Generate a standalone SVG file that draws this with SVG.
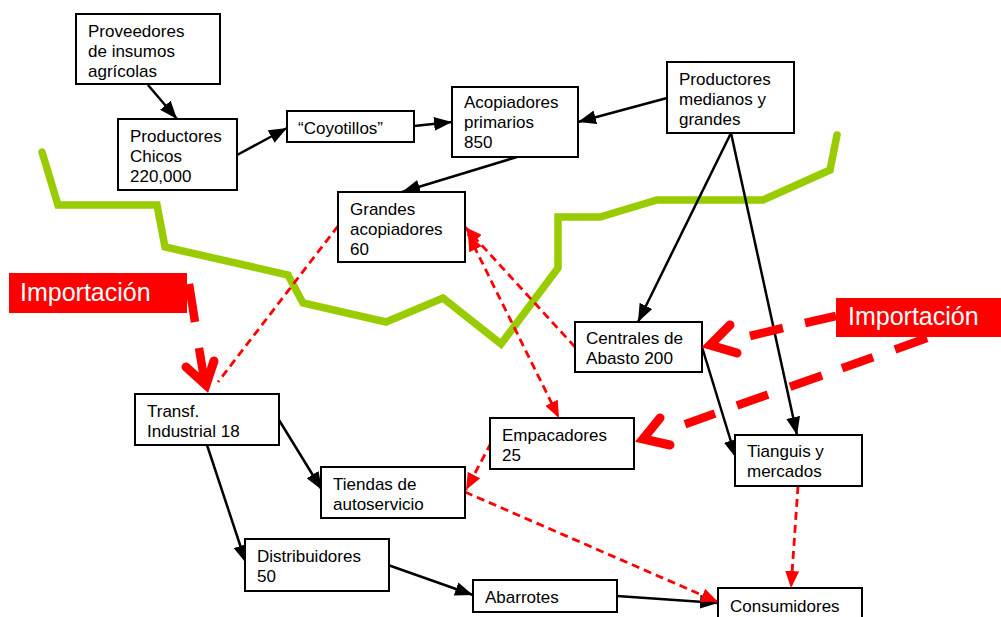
<svg xmlns="http://www.w3.org/2000/svg" width="1001" height="617" viewBox="0 0 1001 617">
<defs>
<marker id="ab" viewBox="0 0 18 14" markerWidth="18" markerHeight="14" refX="18" refY="7" orient="auto" markerUnits="userSpaceOnUse"><path d="M0,0 L18,7 L0,14 z" fill="#000"/></marker>
<marker id="ar" viewBox="0 0 17 14" markerWidth="17" markerHeight="14" refX="17" refY="7" orient="auto-start-reverse" markerUnits="userSpaceOnUse"><path d="M0,0 L17,7 L0,14 z" fill="#f00"/></marker>
</defs>
<style>
.box{fill:#fff;stroke:#000;stroke-width:2}
.t{font-family:"Liberation Sans",Arial,sans-serif;font-size:17px;fill:#000}
.blk{stroke:#000;stroke-width:2.5;fill:none;marker-end:url(#ab)}
.rd{stroke:#f00;stroke-width:2.8;fill:none;stroke-dasharray:8 5}
.rdh{marker-end:url(#ar)}
.big{stroke:#f00;stroke-width:8.5;fill:none;stroke-linecap:butt}
.head{stroke:#f00;stroke-width:9;fill:none;stroke-linecap:round;stroke-linejoin:miter;stroke-miterlimit:10}
.lab{fill:#f00}
.imp{font-family:"Liberation Sans",Arial,sans-serif;font-size:25px;fill:#fff}
.green{stroke:#99cc00;stroke-width:7.5;fill:none;stroke-linecap:round;stroke-linejoin:miter}
</style>
<polyline class="green" points="42,152 58,205 157,205 165,247 288,275 303,303 386,322 443,298 501,344 558,268 558,217 600,217 657,200 763,200 830,170 837,135"/>
<g id="connectors">
<line class="blk" x1="148" y1="85" x2="177" y2="119"/>
<line class="blk" x1="237" y1="155" x2="287" y2="128"/>
<line class="blk" x1="414" y1="126" x2="452" y2="122"/>
<line class="blk" x1="667" y1="98" x2="578" y2="122"/>
<line class="blk" x1="517" y1="157" x2="402" y2="192"/>
<line class="blk" x1="731" y1="133" x2="638" y2="322"/>
<line class="blk" x1="731" y1="133" x2="797" y2="435"/>
<line class="blk" x1="702" y1="347" x2="736" y2="458"/>
<line class="blk" x1="207" y1="445" x2="246" y2="563"/>
<line class="blk" x1="279" y1="420" x2="322" y2="490"/>
<line class="blk" x1="388" y1="565" x2="473" y2="595"/>
<line class="blk" x1="617" y1="596" x2="718" y2="603"/>
<line class="rd" x1="338" y1="226" x2="218" y2="382"/>
<line class="rd rdh" x1="575" y1="347" x2="465" y2="227"/>
<line class="rd rdh" x1="468" y1="234" x2="559" y2="418" style="marker-start:url(#ar)"/>
<line class="rd rdh" x1="491" y1="443" x2="466" y2="490"/>
<line class="rd rdh" x1="465" y1="492" x2="718" y2="602"/>
<line class="rd rdh" x1="798" y1="486" x2="791" y2="588"/>
</g>
<g id="node-proveedores"><rect class="box" x="76" y="14" width="144" height="70"/><text class="t" x="88" y="37">Proveedores</text><text class="t" x="88" y="57">de insumos</text><text class="t" x="88" y="77">agrícolas</text></g>
<g id="node-productores-chicos"><rect class="box" x="118" y="119" width="119" height="71"/><text class="t" x="130" y="142">Productores</text><text class="t" x="130" y="162">Chicos</text><text class="t" x="130" y="182">220,000</text></g>
<g id="node-coyotillos"><rect class="box" x="287" y="111" width="127" height="31"/><text class="t" x="298" y="134">“Coyotillos”</text></g>
<g id="node-acopiadores"><rect class="box" x="452" y="87" width="126" height="70"/><text class="t" x="464" y="108">Acopiadores</text><text class="t" x="464" y="128">primarios</text><text class="t" x="464" y="148">850</text></g>
<g id="node-productores-medianos"><rect class="box" x="667" y="62" width="127" height="71"/><text class="t" x="679" y="85">Productores</text><text class="t" x="679" y="105">medianos y</text><text class="t" x="679" y="125">grandes</text></g>
<g id="node-grandes"><rect class="box" x="338" y="192" width="127" height="70"/><text class="t" x="350" y="215">Grandes</text><text class="t" x="350" y="235">acopiadores</text><text class="t" x="350" y="255">60</text></g>
<g id="node-centrales"><rect class="box" x="575" y="322" width="127" height="50"/><text class="t" x="586" y="344" textLength="97" lengthAdjust="spacingAndGlyphs">Centrales de</text><text class="t" x="586" y="364" textLength="87" lengthAdjust="spacingAndGlyphs">Abasto 200</text></g>
<g id="node-empacadores"><rect class="box" x="490" y="418" width="144" height="51"/><text class="t" x="502" y="441">Empacadores</text><text class="t" x="502" y="461">25</text></g>
<g id="node-tianguis"><rect class="box" x="735" y="435" width="127" height="51"/><text class="t" x="747" y="457">Tianguis y</text><text class="t" x="747" y="477">mercados</text></g>
<g id="node-transf"><rect class="box" x="135" y="394" width="144" height="51"/><text class="t" x="147" y="417">Transf.</text><text class="t" x="147" y="437">Industrial 18</text></g>
<g id="node-tiendas"><rect class="box" x="321" y="467" width="144" height="51"/><text class="t" x="333" y="490">Tiendas de</text><text class="t" x="333" y="510">autoservicio</text></g>
<g id="node-distribuidores"><rect class="box" x="245" y="539" width="144" height="52"/><text class="t" x="257" y="562">Distribuidores</text><text class="t" x="257" y="582">50</text></g>
<g id="node-abarrotes"><rect class="box" x="473" y="580" width="144" height="32"/><text class="t" x="485" y="603">Abarrotes</text></g>
<g id="node-consumidores"><rect class="box" x="718" y="588" width="144" height="40"/><text class="t" x="730" y="612">Consumidores</text></g>
<g id="import-arrows">
<line class="big" x1="189" y1="284" x2="195" y2="322"/>
<line class="big" x1="199" y1="348" x2="205" y2="384"/>
<polyline class="head" points="186,367 206,385 214,361"/>
<line class="big" x1="836" y1="316" x2="805" y2="323"/>
<line class="big" x1="783" y1="328" x2="750" y2="336"/>
<polyline class="head" points="730,325 710,345 737,353"/>
<line class="big" x1="927" y1="338" x2="895" y2="349.4"/>
<line class="big" x1="873" y1="357.2" x2="842" y2="368.3"/>
<line class="big" x1="822" y1="375.4" x2="790" y2="386.8"/>
<line class="big" x1="768" y1="394.6" x2="737" y2="405.6"/>
<line class="big" x1="715" y1="413.5" x2="685" y2="424.2"/>
<polyline class="head" points="660,418 643,439 670,445"/>
</g>
<g id="label-importacion-left"><rect class="lab" x="9" y="273" width="178" height="40"/><text class="imp" x="20" y="301">Importación</text></g>
<g id="label-importacion-right"><rect class="lab" x="836" y="298" width="165" height="39"/><text class="imp" x="848" y="325">Importación</text></g>
</svg>
